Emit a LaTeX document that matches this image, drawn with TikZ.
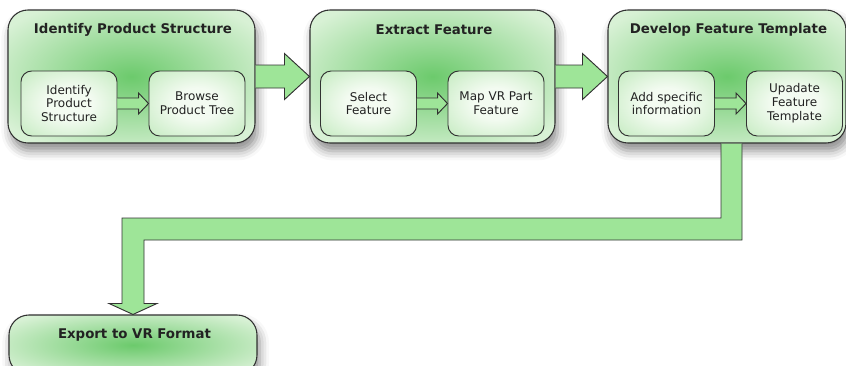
\documentclass[tikz,border=0pt]{standalone}
\usepackage{fontspec}
\setmainfont{DejaVu Sans}
\usetikzlibrary{calc,shadows.blur}

\definecolor{stagecentre}{RGB}{108,202,108}
\definecolor{stageedge}{RGB}{216,241,213}
\definecolor{taskcentre}{RGB}{243,251,241}
\definecolor{taskedge}{RGB}{200,236,196}
\definecolor{arrowgreen}{RGB}{158,229,152}
\definecolor{outline}{RGB}{50,50,50}
\definecolor{inktext}{RGB}{34,34,34}

\pgfdeclareradialshading{stageglow}{\pgfpoint{0bp}{0bp}}{%
  color(0bp)=(stagecentre); color(31bp)=(stageedge); color(50bp)=(stageedge)}
\pgfdeclareradialshading{taskglow}{\pgfpoint{0bp}{0bp}}{%
  color(0bp)=(taskcentre); color(12bp)=(taskcentre); color(34bp)=(taskedge); color(50bp)=(taskedge)}

%% horizontal block arrow: start, end, half shaft, half head, head length
\newcommand{\blockarrow}[5]{%
  \draw[arrowdecorate] ($(#1)+(0,-#3)$) -- ($(#2)+(-#5,-#3)$) -- ($(#2)+(-#5,-#4)$)
    -- (#2) -- ($(#2)+(-#5,#4)$) -- ($(#2)+(-#5,#3)$) -- ($(#1)+(0,#3)$);}

\begin{document}
\begin{tikzpicture}
[x=0.75pt,y=-0.75pt,
  stagedecorate/.style={rectangle,rounded corners=15pt,inner sep=0pt,
    draw=outline,line width=0.8pt,shading=stageglow,
    blur shadow={shadow xshift=2pt,shadow yshift=-6pt,shadow blur radius=7pt,shadow opacity=45}},%
  taskdecorate/.style={rectangle,rounded corners=8pt,inner sep=0pt,
    draw=outline,line width=0.7pt,shading=taskglow,
    minimum width=96*0.75pt,minimum height=65*0.75pt,
    align=center,text=inktext,font=\fontsize{9}{10.4}\selectfont},%
  titledecorate/.style={text=inktext,font=\fontsize{10}{12}\selectfont\bfseries},%
  arrowdecorate/.style={draw=outline,line width=0.7pt,fill=arrowgreen,line join=miter}]
\path[use as bounding box,clip] (0,0) rectangle (846,365);
%% stages
\foreach \nodename/\x/\y/\w/\h in {
  plan/131.5/76.5/247/133, extract/432.5/76.5/245/133,
  develop/727/76.5/238/133, export/133/345/248/60}
{
  \node (\nodename) at (\x,\y) [stagedecorate,minimum width=\w*0.75pt,minimum height=\h*0.75pt] {};
}
\foreach \nodename/\title in {
  plan/Identify Product Structure, extract/Extract Feature,
  develop/Develop Feature Template, export/Export to VR Format}
{
  \node (\nodename-title) at ($(\nodename.north)+(1.5,20.5)$) [titledecorate] {\title};
}
%% tasks inside the stages
\foreach \nodename/\x/\words in {
  identify/69/{Identify\\Product\\Structure}, browse/197/{Browse\\Product Tree},
  select/368.5/{Select\\Feature}, mapvr/496/{Map VR Part\\Feature},
  addinfo/666.5/{Add specific\\information}, update/794.5/{Upadate\\Feature\\Template}}
{
  \node (\nodename) at (\x,103.5) [taskdecorate] {\words};
}
%% arrows between tasks
\foreach \startnode/\endnode in {identify/browse, select/mapvr, addinfo/update}
{
  \blockarrow{\startnode.east}{\endnode.west}{5.5}{10.5}{10}
}
%% arrows between stages
\blockarrow{plan.east}{extract.west}{11.5}{23}{25}
\blockarrow{extract.east}{develop.west}{11.5}{23}{25}
%% bent arrow down to the export stage
\coordinate (bendstart) at ($(develop.south)+(4.5,0)$);
\coordinate (bendend) at (export.north);
\coordinate (bendrow) at (0,229);
\draw[arrowdecorate] ($(bendstart)+(10.5,0)$) -- ($(bendstart |- bendrow)+(10.5,11)$)
  -- ($(bendend |- bendrow)+(11,11)$) -- ($(bendend)+(11,-11)$) -- ($(bendend)+(24,-11)$)
  -- (bendend) -- ($(bendend)+(-24,-11)$) -- ($(bendend)+(-11,-11)$)
  -- ($(bendend |- bendrow)+(-11,-11)$) -- ($(bendstart |- bendrow)+(-10.5,-11)$)
  -- ($(bendstart)+(-10.5,0)$);
\end{tikzpicture}
\end{document}
